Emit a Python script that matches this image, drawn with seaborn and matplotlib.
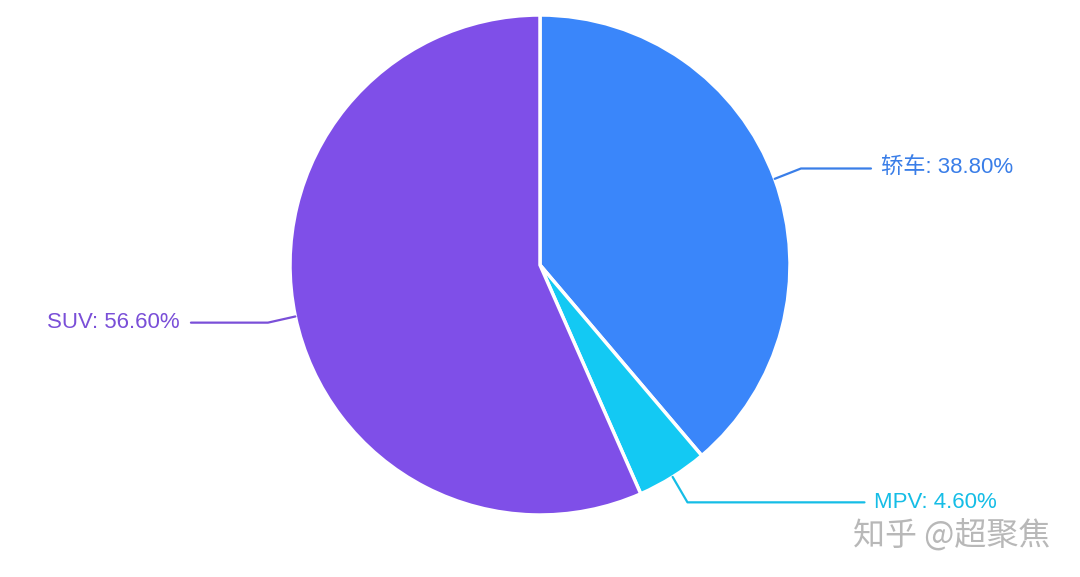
import numpy as np
import matplotlib
matplotlib.use("Agg")
import matplotlib.pyplot as plt
import seaborn as sns

categories = ["轿车", "MPV", "SUV"]
shares = [38.80, 4.60, 56.60]
colors = ["#3a86fa", "#13c9f3", "#7f4fe8"]
label_colors = ["#3a7ee8", "#15bde6", "#7a4fd8"]

sns.set_theme(style="white")
plt.rcParams['font.family'] = ['Liberation Sans', 'Noto Sans CJK SC', 'DejaVu Sans']

W, H = 1080, 577
fig = plt.figure(figsize=(W / 100, H / 100), dpi=100)
ax = fig.add_axes([0, 0, 1, 1])

cx, cy, R = 540, H - 265, 250
wedges, _ = ax.pie(shares, colors=colors, startangle=90, counterclock=False,
                   center=(cx, cy), radius=R, frame=True,
                   wedgeprops=dict(edgecolor='white', linewidth=2.5))
ax.set_xlim(0, W)
ax.set_ylim(0, H)
ax.set_aspect('equal')
ax.axis('off')

text_gap = {"轿车": (70, 10), "MPV": (177, 10), "SUV": (77, 11)}
for w, cat, val, lc in zip(wedges, categories, shares, label_colors):
    ang = np.deg2rad((w.theta1 + w.theta2) / 2)
    x0, y0 = cx + R * np.cos(ang), cy + R * np.sin(ang)
    x1, y1 = cx + (R + 28) * np.cos(ang), cy + (R + 30) * np.sin(ang)
    seg, gap = text_gap[cat]
    side = 1 if np.cos(ang) > 0 else -1
    x2 = x1 + side * seg
    ax.plot([x0, x1, x2], [y0, y1, y1], color=lc, lw=1.6, solid_capstyle='round')
    ax.text(x2 + side * gap, y1, f"{cat}: {val:.2f}%", color=lc, fontsize=16,
            ha='left' if side > 0 else 'right', va='center')

ax.text(1050, H - 535, "知乎 @超聚焦", color="#b8b8b8", fontsize=23,
        family=['Noto Sans CJK SC', 'DejaVu Sans'], ha='right', va='center')

fig.savefig("out.png", dpi=100)
